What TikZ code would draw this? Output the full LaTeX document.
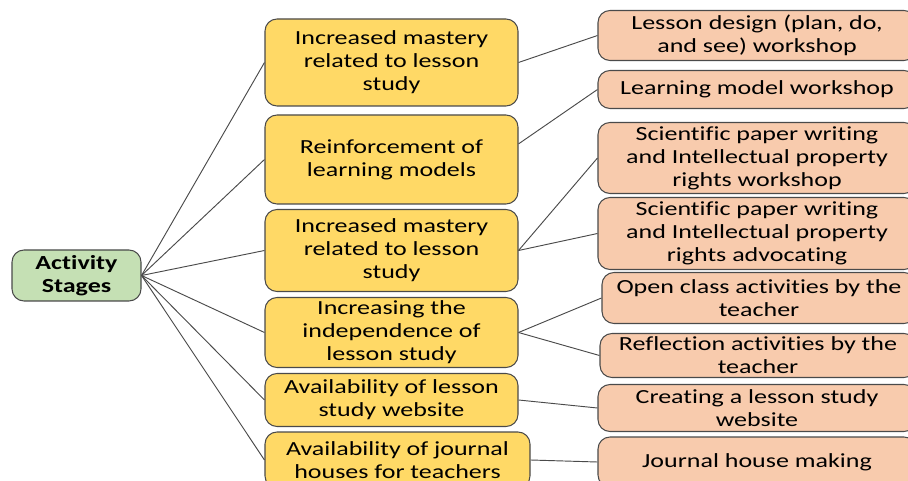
\documentclass[tikz,border=0pt]{standalone}
\usepackage{fontspec}
\setmainfont{Carlito}[FakeStretch=1.3, Ligatures=NoCommon]
\definecolor{stagegreen}{HTML}{C5E0B4}
\definecolor{goalyellow}{HTML}{FFD966}
\definecolor{actsalmon}{HTML}{F8CBAD}
\definecolor{edgegray}{HTML}{4A4A4A}
\tikzset{
  box/.style={draw=edgegray, line width=0.8pt, rounded corners=9pt, align=center,
    inner sep=1pt, font=\fontsize{15}{17.25}\selectfont},
  stagebox/.style={box, fill=stagegreen, minimum width=96.75pt, font=\fontsize{15}{17.25}\selectfont\bfseries},
  goalbox/.style={box, fill=goalyellow, minimum width=189.75pt},
  actbox/.style={box, fill=actsalmon, minimum width=238.5pt},
  link/.style={draw=edgegray, line width=0.7pt}
}
\begin{document}
\begin{tikzpicture}[x=0.75pt, y=-0.75pt]
  \useasboundingbox (0,0) rectangle (908,481);
  % root
  \node[stagebox, minimum height=38.25pt] (stages) at (76.5,275.5) {Activity\\Stages};
  % middle column
  \node[goalbox, minimum height=65.25pt] (g1) at (391.5,62.5) {Increased mastery\\related to lesson\\study};
  \node[goalbox, minimum height=66.75pt] (g2) at (391.5,159.5) {Reinforcement of\\learning models};
  \node[goalbox, minimum height=61.5pt] (g3) at (391.5,250.5) {Increased mastery\\related to lesson\\study};
  \node[goalbox, minimum height=52.5pt] (g4) at (391.5,332.5) {Increasing the\\independence of\\lesson study};
  \node[goalbox, minimum height=39.75pt] (g5) at (391.5,400) {Availability of lesson\\study website};
  \node[goalbox, minimum width=198.75pt, minimum height=42pt] (g6) at (397.5,460) {Availability of journal\\houses for teachers};
  % right column
  \node[actbox, minimum height=37.5pt] (a1) at (757,35.5) {Lesson design (plan, do,\\and see) workshop};
  \node[actbox, minimum height=28.5pt] (a2) at (757,89.5) {Learning model workshop};
  \node[actbox, minimum height=53.25pt] (a3) at (757,158) {Scientific paper writing\\and Intellectual property\\rights workshop};
  \node[actbox, minimum height=54pt] (a4) at (757,233.5) {Scientific paper writing\\and Intellectual property\\rights advocating};
  \node[actbox, minimum width=235.5pt, minimum height=38.25pt] (a5) at (759,298) {Open class activities by the\\teacher};
  \node[actbox, minimum width=237pt, minimum height=33pt] (a6) at (758,355.5) {Reflection activities by the\\teacher};
  \node[actbox, minimum height=35.25pt] (a7) at (757,408) {Creating a lesson study\\website};
  \node[actbox, minimum height=37.5pt] (a8) at (757,462) {Journal house making};
  % root to goals
  \draw[link] (stages.east) -- (g1.west);
  \draw[link] (stages.east) -- (g2.west);
  \draw[link] (stages.east) -- (g3.west);
  \draw[link] (stages.east) -- (g4.west);
  \draw[link] (stages.east) -- (g5.west);
  \draw[link] (stages.east) -- (g6.west);
  % goals to activities
  \draw[link] (g1.east) -- (a1.west);
  \draw[link] (g2.7) -- (a2.west);
  \draw[link] (g3.east) -- (a3.west);
  \draw[link] (g3.east) -- (a4.west);
  \draw[link] (g4.east) -- (a5.west);
  \draw[link] (g4.east) -- (a6.west);
  \draw[link] (g5.east) -- (a7.west);
  \draw[link] (g6.east) -- (a8.west);
\end{tikzpicture}
\end{document}
